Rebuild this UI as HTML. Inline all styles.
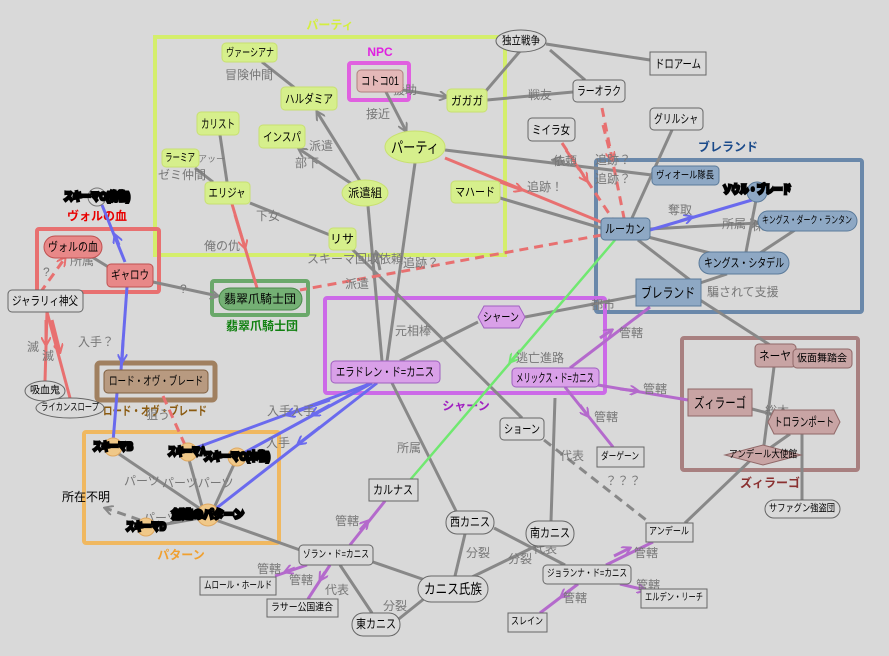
<!DOCTYPE html>
<html><head><meta charset="utf-8"><style>
body{margin:0;background:#d9d9d9}
svg{display:block;font-family:"Liberation Sans","Noto Sans CJK JP",sans-serif}
.l{fill:#777;font-size:12px}
.n{font-size:12px;fill:#000;text-anchor:middle;dominant-baseline:central}
.s{font-size:11px}
.g{stroke:#888;stroke-width:3;fill:none}
.r{stroke:#e87070;stroke-width:3;fill:none}
.rd{stroke:#e87070;stroke-width:3;fill:none;stroke-dasharray:9 6}
.b{stroke:#6a6aee;stroke-width:3;fill:none}
.p{stroke:#b46acc;stroke-width:3;fill:none}
.k{font-size:11px;font-weight:bold;fill:#000;stroke:#000;stroke-width:3;paint-order:stroke;text-anchor:middle;dominant-baseline:central}
</style></head><body>
<svg width="889" height="656" viewBox="0 0 889 656">
<defs>
<marker id="ag" markerWidth="10" markerHeight="10" refX="8" refY="5" orient="auto" markerUnits="userSpaceOnUse"><path d="M0,0 L9,5 L0,10" fill="none" stroke="#888" stroke-width="2"/></marker>
<marker id="ar" markerWidth="10" markerHeight="10" refX="8" refY="5" orient="auto" markerUnits="userSpaceOnUse"><path d="M0,0 L9,5 L0,10" fill="none" stroke="#e87070" stroke-width="2"/></marker>
<marker id="ab" markerWidth="10" markerHeight="10" refX="8" refY="5" orient="auto" markerUnits="userSpaceOnUse"><path d="M0,0 L9,5 L0,10" fill="none" stroke="#6a6aee" stroke-width="2"/></marker>
<marker id="ap" markerWidth="10" markerHeight="10" refX="8" refY="5" orient="auto" markerUnits="userSpaceOnUse"><path d="M0,0 L9,5 L0,10" fill="none" stroke="#b46acc" stroke-width="2"/></marker>
<marker id="an" markerWidth="10" markerHeight="10" refX="8" refY="5" orient="auto" markerUnits="userSpaceOnUse"><path d="M0,0 L9,5 L0,10" fill="none" stroke="#70e870" stroke-width="2"/></marker>
</defs>

<!-- group frames -->
<rect x="155" y="37" width="350" height="218" fill="none" stroke="#d4ee6c" stroke-width="4"/>
<text x="330" y="29" fill="#d4ee40" font-size="12" font-weight="bold" text-anchor="middle">パーティ</text>
<rect x="37" y="229" width="122" height="63" fill="none" stroke="#e87070" stroke-width="4" rx="2"/>
<text x="97" y="220" fill="#e80000" font-size="12" font-weight="bold" text-anchor="middle">ヴォルの血</text>
<rect x="212" y="281" width="96" height="34" fill="none" stroke="#6aa86a" stroke-width="4" rx="2"/>
<text x="262" y="330" fill="#108010" font-size="12" font-weight="bold" text-anchor="middle">翡翠爪騎士団</text>
<rect x="596" y="160" width="266" height="152" fill="none" stroke="#6a88aa" stroke-width="4" rx="2"/>
<text x="728" y="151" fill="#1a4a8a" font-size="12" font-weight="bold" text-anchor="middle">ブレランド</text>
<rect x="325" y="298" width="280" height="95" fill="none" stroke="#cc6ae8" stroke-width="4" rx="2"/>
<text x="466" y="410" fill="#a020c0" font-size="12" font-weight="bold" text-anchor="middle">シャーン</text>
<rect x="97" y="363" width="118" height="37" fill="none" stroke="#a08060" stroke-width="5" rx="3"/>
<text x="155" y="415" fill="#8a5a10" font-size="12" font-weight="bold" text-anchor="middle" textLength="104" lengthAdjust="spacingAndGlyphs">ロード・オヴ・ブレード</text>
<rect x="84" y="432" width="195" height="111" fill="none" stroke="#f0b860" stroke-width="4" rx="2"/>
<text x="181" y="559" fill="#f0a030" font-size="12" font-weight="bold" text-anchor="middle">パターン</text>
<rect x="682" y="338" width="176" height="132" fill="none" stroke="#a88080" stroke-width="4" rx="2"/>
<text x="770" y="487" fill="#8a3030" font-size="12" font-weight="bold" text-anchor="middle">ズィラーゴ</text>
<rect x="349" y="63" width="60" height="37" fill="none" stroke="#e060e0" stroke-width="4" rx="2"/>
<text x="380" y="56" fill="#e020e0" font-size="12" font-weight="bold" text-anchor="middle">NPC</text>

<!-- gray edges -->
<line class="g" x1="262" y1="62" x2="295" y2="88"/>
<line class="g" x1="360" y1="181" x2="317" y2="112" marker-end="url(#ag)"/>
<line class="g" x1="352" y1="184" x2="299" y2="149" marker-end="url(#ag)"/>
<line class="g" x1="220" y1="135" x2="227" y2="182"/>
<line class="g" x1="195" y1="168" x2="213" y2="182"/>
<line class="g" x1="250" y1="203" x2="330" y2="235"/>
<line class="g" x1="352" y1="249" x2="522" y2="418"/>
<line class="g" x1="368" y1="206" x2="382" y2="361"/>
<line class="g" x1="415" y1="163" x2="387" y2="361"/>
<line class="g" x1="380" y1="270" x2="376" y2="252" marker-end="url(#ag)"/>
<line class="g" x1="386" y1="92" x2="406" y2="131" marker-end="url(#ag)"/>
<line class="g" x1="403" y1="90" x2="447" y2="97" marker-end="url(#ag)"/>
<line class="g" x1="445" y1="150" x2="652" y2="175"/>
<line class="g" x1="565" y1="162" x2="553" y2="160" marker-end="url(#ag)"/>
<line class="g" x1="500" y1="198" x2="601" y2="228"/>
<line class="g" x1="485" y1="92" x2="521" y2="50"/>
<line class="g" x1="487" y1="100" x2="573" y2="92"/>
<line class="g" x1="546" y1="44" x2="650" y2="60"/>
<line class="g" x1="550" y1="50" x2="585" y2="80"/>
<line class="g" x1="672" y1="130" x2="632" y2="218"/>
<line class="g" x1="650" y1="229" x2="758" y2="223" marker-end="url(#ag)"/>
<line class="g" x1="648" y1="237" x2="710" y2="253"/>
<line class="g" x1="638" y1="240" x2="690" y2="280"/>
<line class="g" x1="756" y1="200" x2="746" y2="252"/>
<line class="g" x1="795" y1="230" x2="760" y2="253"/>
<line class="g" x1="727" y1="274" x2="700" y2="283"/>
<line class="g" x1="700" y1="300" x2="770" y2="345"/>
<line class="g" x1="636" y1="296" x2="525" y2="317"/>
<line class="g" x1="478" y1="322" x2="400" y2="361"/>
<line class="g" x1="392" y1="383" x2="456" y2="511"/>
<line class="g" x1="555" y1="398" x2="551" y2="521"/>
<line class="g" x1="544" y1="440" x2="650" y2="523" stroke-dasharray="9 6"/>
<line class="g" x1="685" y1="523" x2="757" y2="454" marker-end="url(#ag)"/>
<line class="g" x1="752" y1="409" x2="775" y2="415"/>
<line class="g" x1="774" y1="367" x2="764" y2="445"/>
<line class="g" x1="790" y1="434" x2="770" y2="448"/>
<line class="g" x1="802" y1="434" x2="802" y2="500"/>
<line class="g" x1="494" y1="528" x2="565" y2="565"/>
<line class="g" x1="465" y1="534" x2="455" y2="576"/>
<line class="g" x1="540" y1="544" x2="470" y2="578"/>
<line class="g" x1="373" y1="562" x2="425" y2="580"/>
<line class="g" x1="340" y1="565" x2="372" y2="613"/>
<line class="g" x1="395" y1="622" x2="425" y2="598"/>
<line class="g" x1="210" y1="518" x2="300" y2="550"/>
<line class="g" x1="113" y1="450" x2="205" y2="512"/>
<line class="g" x1="188" y1="456" x2="203" y2="510"/>
<line class="g" x1="236" y1="460" x2="213" y2="510"/>
<line class="g" x1="150" y1="527" x2="200" y2="518"/>
<line class="g" x1="140" y1="520" x2="105" y2="508" stroke-dasharray="9 6" marker-end="url(#ag)"/>
<line class="g" x1="153" y1="282" x2="218" y2="296" marker-end="url(#ag)"/>
<line class="g" x1="92" y1="257" x2="110" y2="268"/>

<!-- red edges -->
<line class="r" x1="232" y1="204" x2="257" y2="288"/>
<line class="r" x1="235" y1="215" x2="245" y2="248" marker-end="url(#ar)"/>
<line class="r" x1="445" y1="158" x2="601" y2="222"/>
<line class="r" x1="500" y1="182" x2="522" y2="190" marker-end="url(#ar)"/>
<line class="rd" x1="602" y1="235" x2="300" y2="290"/>
<line class="rd" x1="602" y1="108" x2="624" y2="218"/>
<line class="rd" x1="603" y1="125" x2="612" y2="160" marker-end="url(#ar)"/>
<line class="rd" x1="562" y1="143" x2="612" y2="218"/>
<line class="rd" x1="566" y1="150" x2="587" y2="181" marker-end="url(#ar)"/>
<line class="rd" x1="40" y1="293" x2="65" y2="258" marker-end="url(#ar)"/>
<line class="r" x1="47" y1="312" x2="45" y2="381"/>
<line class="r" x1="47" y1="312" x2="70" y2="398"/>
<line class="r" x1="46" y1="320" x2="46" y2="345" marker-end="url(#ar)"/>
<line class="r" x1="52" y1="320" x2="60" y2="352" marker-end="url(#ar)"/>
<line class="rd" x1="163" y1="396" x2="185" y2="445"/>

<!-- blue edges -->
<line class="b" x1="125" y1="262" x2="102" y2="205"/>
<line class="b" x1="119" y1="245" x2="115" y2="235" marker-end="url(#ab)"/>
<line class="b" x1="127" y1="287" x2="121" y2="370"/>
<line class="b" x1="123" y1="340" x2="122" y2="362" marker-end="url(#ab)"/>
<line class="b" x1="117" y1="393" x2="113" y2="442"/>
<line class="b" x1="372" y1="383" x2="190" y2="450"/>
<line class="b" x1="330" y1="400" x2="287" y2="415" marker-end="url(#ab)"/>
<line class="b" x1="372" y1="383" x2="240" y2="455"/>
<line class="b" x1="330" y1="405" x2="312" y2="415" marker-end="url(#ab)"/>
<line class="b" x1="377" y1="383" x2="214" y2="510"/>
<line class="b" x1="320" y1="427" x2="298" y2="444" marker-end="url(#ab)"/>
<line class="b" x1="650" y1="230" x2="752" y2="200"/>
<line class="b" x1="680" y1="221" x2="692" y2="217" marker-end="url(#ab)"/>

<!-- green -->
<line stroke="#70e870" stroke-width="2.5" x1="615" y1="240" x2="410" y2="480"/>
<line stroke="#70e870" stroke-width="2.5" x1="520" y1="350" x2="510" y2="362" marker-end="url(#an)"/>

<!-- purple edges -->
<line class="p" x1="570" y1="368" x2="650" y2="307"/>
<line class="p" x1="600" y1="338" x2="612" y2="330" marker-end="url(#ap)"/>
<line class="p" x1="598" y1="385" x2="688" y2="400"/>
<line class="p" x1="620" y1="389" x2="638" y2="391" marker-end="url(#ap)"/>
<line class="p" x1="565" y1="387" x2="613" y2="447"/>
<line class="p" x1="580" y1="405" x2="588" y2="416" marker-end="url(#ap)"/>
<line class="p" x1="385" y1="501" x2="350" y2="545"/>
<line class="p" x1="360" y1="530" x2="368" y2="521" marker-end="url(#ap)"/>
<line class="p" x1="307" y1="565" x2="275" y2="576"/>
<line class="p" x1="295" y1="568" x2="285" y2="572" marker-end="url(#ap)"/>
<line class="p" x1="330" y1="565" x2="308" y2="599"/>
<line class="p" x1="325" y1="572" x2="320" y2="580" marker-end="url(#ap)"/>
<line class="p" x1="606" y1="565" x2="653" y2="542"/>
<line class="p" x1="614" y1="556" x2="630" y2="548" marker-end="url(#ap)"/>
<line class="p" x1="620" y1="584" x2="645" y2="590" marker-end="url(#ap)"/>
<line class="p" x1="578" y1="584" x2="540" y2="613"/>
<line class="p" x1="570" y1="590" x2="561" y2="597" marker-end="url(#ap)"/>

<!-- edge labels -->
<g class="l">
<text x="225" y="79">冒険仲間</text><text x="309" y="150">派遣</text><text x="295" y="167">部下</text>
<text x="158" y="179">ゼミ仲間</text><text x="198" y="162" font-size="9">アッー</text><text x="256" y="220">下女</text>
<text x="204" y="250">俺の仇</text><text x="366" y="118">接近</text><text x="393" y="94">援助</text>
<text x="528" y="99">戦友</text><text x="553" y="165">依頼</text><text x="527" y="191">追跡！</text>
<text x="595" y="164">追跡？</text><text x="595" y="183">追跡？</text>
<text x="307" y="263">スキーマ回収依頼</text><text x="403" y="267">追跡？</text><text x="345" y="288">派遣</text>
<text x="668" y="214">奪取</text><text x="722" y="228">所属</text><text x="752" y="230">保管</text>
<text x="707" y="296">騙されて支援</text><text x="591" y="309">都市</text><text x="395" y="335">元相棒</text>
<text x="516" y="362">逃亡進路</text><text x="619" y="337">管轄</text><text x="643" y="393">管轄</text><text x="594" y="421">管轄</text>
<text x="560" y="460">代表</text><text x="605" y="485">？？？</text><text x="397" y="452">所属</text>
<text x="267" y="415">入手入手</text><text x="266" y="447">入手</text><text x="146" y="419">狙う</text>
<text x="78" y="346">入手？</text><text x="27" y="351">滅</text><text x="42" y="360">滅</text><text x="43" y="276">?</text>
<text x="70" y="265">所属</text><text x="180" y="293">?</text>
<text x="124" y="485">パーツ</text><text x="162" y="487">パーツパーツ</text><text x="143" y="522">パーツ</text>
<text x="335" y="525">管轄</text><text x="257" y="573">管轄</text><text x="289" y="584">管轄</text><text x="325" y="594">代表</text>
<text x="383" y="610">分裂</text><text x="466" y="557">分裂</text><text x="508" y="563">分裂</text><text x="533" y="553">代表</text>
<text x="634" y="557">管轄</text><text x="636" y="589">管轄</text><text x="563" y="602">管轄</text><text x="765" y="415">総本</text>
</g>
<text x="62" y="501" font-size="12">所在不明</text>

<!-- yellow nodes -->
<g fill="#d6ef8c" stroke="#c8e070" stroke-width="1">
<rect x="222" y="43" width="55" height="19" rx="4"/><rect x="281" y="87" width="56" height="23" rx="4"/>
<rect x="197" y="112" width="42" height="23" rx="4"/><rect x="259" y="125" width="46" height="23" rx="4"/>
<rect x="162" y="149" width="37" height="18" rx="4"/><rect x="205" y="182" width="45" height="22" rx="4"/>
<ellipse cx="365" cy="193" rx="23" ry="13"/><ellipse cx="415" cy="147" rx="30" ry="16"/>
<rect x="447" y="89" width="40" height="23" rx="4"/><rect x="451" y="181" width="49" height="22" rx="4"/>
<rect x="329" y="228" width="27" height="22" rx="4"/>
</g>
<g class="n" lengthAdjust="spacingAndGlyphs">
<text x="250" y="53" class="s" textLength="48" lengthAdjust="spacingAndGlyphs">ヴァーシアナ</text>
<text x="309" y="99" textLength="48" lengthAdjust="spacingAndGlyphs">ハルダミア</text>
<text x="218" y="124" textLength="34" lengthAdjust="spacingAndGlyphs">カリスト</text>
<text x="282" y="137" textLength="38" lengthAdjust="spacingAndGlyphs">インスパ</text>
<text x="180" y="158" class="s" textLength="30" lengthAdjust="spacingAndGlyphs">ラーミア</text>
<text x="227" y="193" textLength="37" lengthAdjust="spacingAndGlyphs">エリジャ</text>
<text x="365" y="193" textLength="34" lengthAdjust="spacingAndGlyphs">派遣組</text>
<text x="415" y="148" font-size="15" textLength="48" lengthAdjust="spacingAndGlyphs">パーティ</text>
<text x="467" y="101" textLength="32" lengthAdjust="spacingAndGlyphs">ガガガ</text>
<text x="475" y="192" textLength="40" lengthAdjust="spacingAndGlyphs">マハード</text>
<text x="342" y="239">リサ</text>
</g>
<rect x="357" y="70" width="46" height="22" rx="4" fill="#e4b8b8" stroke="#b08080"/>
<text class="n" x="380" y="81" textLength="38" lengthAdjust="spacingAndGlyphs">コトコ01</text>

<!-- red nodes -->
<rect x="44" y="236" width="58" height="22" rx="11" fill="#e88888" stroke="#c05050"/>
<text class="n" x="73" y="247" textLength="50" lengthAdjust="spacingAndGlyphs">ヴォルの血</text>
<rect x="107" y="264" width="46" height="23" rx="4" fill="#e88888" stroke="#c05050"/>
<text class="n" x="130" y="275" textLength="38" lengthAdjust="spacingAndGlyphs">ギャロウ</text>

<!-- gray nodes -->
<g fill="#d9d9d9" stroke="#666" stroke-width="1">
<rect x="8" y="290" width="75" height="22" rx="4"/>
<ellipse cx="45" cy="391" rx="20" ry="10"/><ellipse cx="70" cy="408" rx="34" ry="10"/>
<ellipse cx="521" cy="41" rx="25" ry="11"/><rect x="650" y="52" width="56" height="23"/>
<rect x="573" y="80" width="52" height="22" rx="4"/><rect x="650" y="108" width="53" height="22" rx="4"/>
<rect x="528" y="118" width="47" height="23" rx="4"/>
<rect x="500" y="418" width="44" height="22" rx="4"/><rect x="597" y="447" width="47" height="20"/>
<rect x="369" y="479" width="49" height="22"/>
<rect x="446" y="511" width="48" height="23" rx="11"/><rect x="526" y="521" width="48" height="25" rx="12"/>
<rect x="418" y="576" width="70" height="26" rx="13"/><rect x="352" y="613" width="48" height="23" rx="11"/>
<rect x="299" y="545" width="74" height="20" rx="4"/><rect x="200" y="577" width="76" height="18"/>
<rect x="267" y="599" width="71" height="18"/><rect x="543" y="565" width="88" height="19" rx="4"/>
<rect x="646" y="523" width="47" height="19"/><rect x="641" y="589" width="66" height="19"/>
<rect x="508" y="613" width="39" height="19"/><rect x="765" y="500" width="75" height="18" rx="9"/>
</g>
<g class="n">
<text x="45" y="301" textLength="66" lengthAdjust="spacingAndGlyphs">ジャラリィ神父</text>
<text x="45" y="391" font-size="10" textLength="30" lengthAdjust="spacingAndGlyphs">吸血鬼</text>
<text x="70" y="408" font-size="10" textLength="58" lengthAdjust="spacingAndGlyphs">ライカンスロープ</text>
<text x="521" y="41" class="s" textLength="38" lengthAdjust="spacingAndGlyphs">独立戦争</text>
<text x="678" y="64" textLength="46" lengthAdjust="spacingAndGlyphs">ドロアーム</text>
<text x="599" y="91" textLength="44" lengthAdjust="spacingAndGlyphs">ラーオラク</text>
<text x="676" y="119" textLength="44" lengthAdjust="spacingAndGlyphs">グリルシャ</text>
<text x="551" y="130" textLength="38" lengthAdjust="spacingAndGlyphs">ミイラ女</text>
<text x="522" y="429" textLength="36" lengthAdjust="spacingAndGlyphs">ショーン</text>
<text x="620" y="457" font-size="10" textLength="38" lengthAdjust="spacingAndGlyphs">ダーゲーン</text>
<text x="393" y="490" textLength="40" lengthAdjust="spacingAndGlyphs">カルナス</text>
<text x="470" y="522" textLength="40" lengthAdjust="spacingAndGlyphs">西カニス</text>
<text x="550" y="533" textLength="40" lengthAdjust="spacingAndGlyphs">南カニス</text>
<text x="453" y="589" font-size="14" textLength="58" lengthAdjust="spacingAndGlyphs">カニス氏族</text>
<text x="376" y="624" textLength="40" lengthAdjust="spacingAndGlyphs">東カニス</text>
<text x="336" y="555" font-size="10" textLength="66" lengthAdjust="spacingAndGlyphs">ゾラン・ド=カニス</text>
<text x="238" y="586" font-size="10" textLength="68" lengthAdjust="spacingAndGlyphs">ムロール・ホールド</text>
<text x="302" y="608" font-size="10" textLength="62" lengthAdjust="spacingAndGlyphs">ラサー公国連合</text>
<text x="587" y="574" font-size="10" textLength="80" lengthAdjust="spacingAndGlyphs">ジョランナ・ド=カニス</text>
<text x="669" y="532" font-size="10" textLength="40" lengthAdjust="spacingAndGlyphs">アンデール</text>
<text x="674" y="598" font-size="10" textLength="58" lengthAdjust="spacingAndGlyphs">エルデン・リーチ</text>
<text x="527" y="622" font-size="10" textLength="32" lengthAdjust="spacingAndGlyphs">スレイン</text>
<text x="802" y="509" font-size="10" textLength="66" lengthAdjust="spacingAndGlyphs">サファグン強盗団</text>
</g>

<!-- green node -->
<rect x="219" y="288" width="83" height="22" rx="11" fill="#74b074" stroke="#4a8a4a"/>
<text class="n" x="260" y="299" textLength="72" lengthAdjust="spacingAndGlyphs">翡翠爪騎士団</text>

<!-- blue nodes -->
<g fill="#8ea8c4" stroke="#5a7a9a">
<rect x="652" y="166" width="67" height="19" rx="4"/><rect x="601" y="218" width="49" height="22" rx="4"/>
<rect x="758" y="211" width="99" height="20" rx="10"/><rect x="699" y="252" width="90" height="22" rx="11"/>
<rect x="636" y="279" width="65" height="27"/>
<circle cx="757" cy="192" r="10"/>
</g>
<g class="n">
<text x="685" y="176" font-size="10" textLength="58" lengthAdjust="spacingAndGlyphs">ヴィオール隊長</text>
<text x="625" y="229" textLength="40" lengthAdjust="spacingAndGlyphs">ルーカン</text>
<text x="807" y="221" font-size="10" textLength="90" lengthAdjust="spacingAndGlyphs">キングス・ダーク・ランタン</text>
<text x="744" y="263" textLength="80" lengthAdjust="spacingAndGlyphs">キングス・シタデル</text>
<text x="668" y="293" font-size="14" textLength="54" lengthAdjust="spacingAndGlyphs">ブレランド</text>
</g>
<text class="k" x="757" y="190" textLength="68" lengthAdjust="spacingAndGlyphs">ソウル・ブレード</text>

<!-- purple nodes -->
<polygon points="484,306 519,306 525,317 519,328 484,328 478,317" fill="#d9a0e8" stroke="#a060c0"/>
<text class="n" x="501" y="317" textLength="36" lengthAdjust="spacingAndGlyphs">シャーン</text>
<rect x="331" y="361" width="109" height="22" rx="4" fill="#d9a0e8" stroke="#a060c0"/>
<text class="n" x="385" y="372" textLength="98" lengthAdjust="spacingAndGlyphs">エラドレン・ド=カニス</text>
<rect x="512" y="368" width="87" height="19" rx="4" fill="#d9a0e8" stroke="#a060c0"/>
<text class="n" x="555" y="378" font-size="10" textLength="78" lengthAdjust="spacingAndGlyphs">メリックス・ド=カニス</text>

<!-- zilargo nodes -->
<g fill="#c8a4a4" stroke="#906868">
<rect x="688" y="389" width="64" height="27"/><rect x="755" y="344" width="41" height="23" rx="4"/>
<rect x="793" y="349" width="59" height="19" rx="4"/>
<polygon points="774,410 834,410 840,422 834,434 774,434 768,422"/>
<polygon points="725,455 763,445 801,455 763,465"/>
</g>
<g class="n">
<text x="720" y="403" font-size="14" textLength="52" lengthAdjust="spacingAndGlyphs">ズィラーゴ</text>
<text x="775" y="356" textLength="32" lengthAdjust="spacingAndGlyphs">ネーヤ</text>
<text x="822" y="359" font-size="10" textLength="50" lengthAdjust="spacingAndGlyphs">仮面舞踏会</text>
<text x="804" y="422" textLength="60" lengthAdjust="spacingAndGlyphs">トロランポート</text>
<text x="763" y="455" font-size="10" textLength="68" lengthAdjust="spacingAndGlyphs">アンデール大使館</text>
</g>

<!-- lord of blades -->
<rect x="104" y="370" width="104" height="23" rx="4" fill="#b89a80" stroke="#806040"/>
<text class="n" x="156" y="381" textLength="94" lengthAdjust="spacingAndGlyphs">ロード・オヴ・ブレード</text>

<!-- schema nodes -->
<g fill="#f0c888" stroke="#e0a860">
<circle cx="97" cy="197" r="9" fill="#d9d9d9" stroke="#777"/>
<circle cx="113" cy="447" r="9"/><circle cx="188" cy="452" r="9"/><circle cx="237" cy="457" r="9"/>
<circle cx="208" cy="515" r="11"/><circle cx="146" cy="527" r="9"/>
</g>
<text class="k" x="97" y="197" textLength="66" lengthAdjust="spacingAndGlyphs">スキーマC(偽物)</text>
<text class="k" x="113" y="447" textLength="40" lengthAdjust="spacingAndGlyphs">スキーマB</text>
<text class="k" x="187" y="452" textLength="38" lengthAdjust="spacingAndGlyphs">スキーマA</text>
<text class="k" x="237" y="457" textLength="66" lengthAdjust="spacingAndGlyphs">スキーマC(本物)</text>
<text class="k" x="208" y="515" font-size="12" textLength="72" lengthAdjust="spacingAndGlyphs">創造のパターン</text>
<text class="k" x="146" y="527" textLength="40" lengthAdjust="spacingAndGlyphs">スキーマD</text>
</svg>
</body></html>
